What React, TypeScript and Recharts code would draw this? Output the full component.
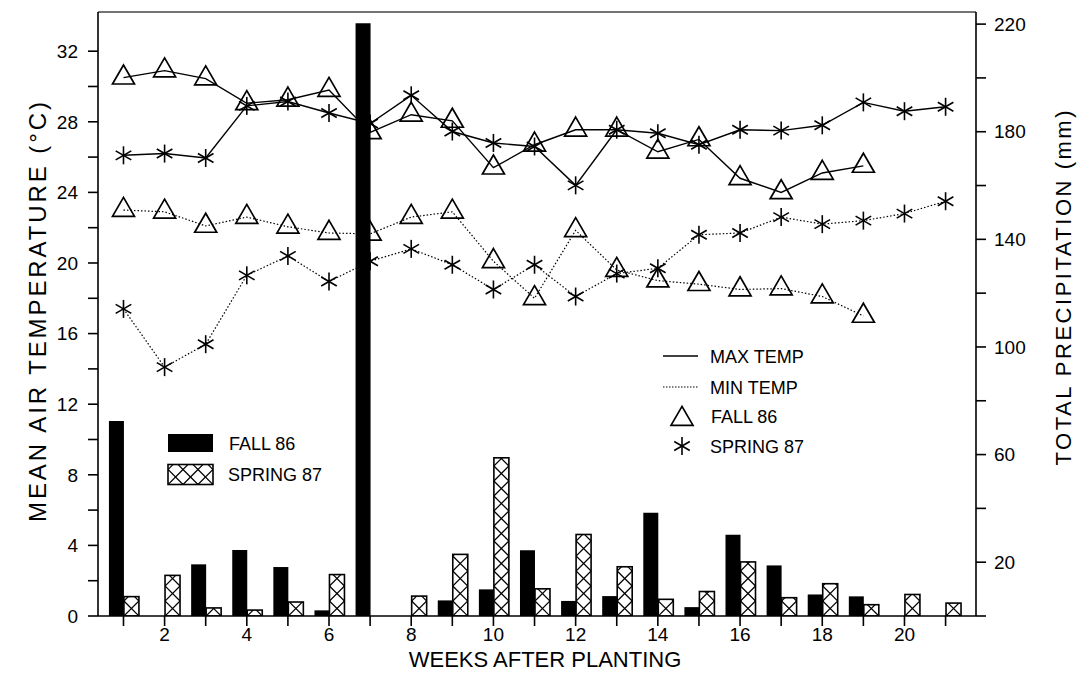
import React from 'react';
import { ComposedChart, Line, Bar, XAxis, YAxis, ReferenceLine } from 'recharts';

const FONT = "'Liberation Sans', Arial, Helvetica, sans-serif";

// weekly values
const weeks = [1, 2, 3, 4, 5, 6, 7, 8, 9, 10, 11, 12, 13, 14, 15, 16, 17, 18, 19, 20, 21];

// total precipitation (mm), right axis
const fallPrecip = [72.5, 0, 19.2, 24.5, 18.2, 2.1, 220.3, 0, 5.8, 9.9, 24.4, 5.6, 7.4, 38.4, 3.3, 30.2, 18.8, 8.0, 7.3, 0, 0];
const springPrecip = [7.2, 15.1, 3.0, 2.2, 5.2, 15.4, 0, 7.4, 22.9, 58.8, 10.1, 30.3, 18.3, 6.2, 9.1, 20.1, 6.8, 12.0, 4.2, 8.0, 4.8];

// mean air temperature (°C), left axis
const fallMax = [30.5, 30.9, 30.45, 29.05, 29.25, 29.8, 27.4, 28.4, 28.05, 25.4, 26.7, 27.55, 27.55, 26.3, 27.0, 24.8, 24.0, 25.1, 25.5, null, null];
const springMax = [26.1, 26.2, 25.95, 28.9, 29.15, 28.5, 27.9, 29.5, 27.45, 26.8, 26.6, 24.4, 27.55, 27.35, 26.7, 27.55, 27.5, 27.8, 29.1, 28.6, 28.85];
const fallMin = [23.0, 22.9, 22.1, 22.6, 22.05, 21.7, 21.65, 22.6, 22.9, 20.1, 18.0, 21.85, 19.6, 19.0, 18.8, 18.5, 18.55, 18.1, 17.0, null, null];
const springMin = [17.4, 14.1, 15.4, 19.3, 20.4, 18.95, 20.1, 20.8, 19.9, 18.5, 19.9, 18.1, 19.4, 19.7, 21.6, 21.7, 22.6, 22.2, 22.4, 22.8, 23.5];

const tempTicks = [0, 2, 4, 6, 8, 10, 12, 14, 16, 18, 20, 22, 24, 26, 28, 30, 32];
const precipTicks = [0, 20, 40, 60, 80, 100, 120, 140, 160, 180, 200, 220];
const tempLabels = [0, 4, 8, 12, 16, 20, 24, 28, 32];
const precipLabels = [20, 60, 100, 140, 180, 220];
const weekLabels = [2, 4, 6, 8, 10, 12, 14, 16, 18, 20];

const chartData = weeks.map((week, i) => ({
  week,
  fallPrecip: fallPrecip[i],
  springPrecip: springPrecip[i],
  fallMax: fallMax[i],
  springMax: springMax[i],
  fallMin: fallMin[i],
  springMin: springMin[i],
}));

const TEMP_MAX = 34.22;
const PRECIP_MAX = 224.5;

const Triangle = ({ cx, cy }: { cx: number; cy: number }) => {
  const s = 22;
  const h = 19;
  return (
    <path
      d={`M${cx},${cy - (2 * h) / 3} L${cx + s / 2},${cy + h / 3} L${cx - s / 2},${cy + h / 3} Z`}
      fill="none"
      stroke="#000"
      strokeWidth={1.7}
      strokeLinejoin="miter"
    />
  );
};

const Asterisk = ({ cx, cy }: { cx: number; cy: number }) => {
  const r = 9;
  const dx = r * Math.cos(Math.PI / 6);
  const dy = r * Math.sin(Math.PI / 6);
  return (
    <g stroke="#000" strokeWidth={1.6}>
      <line x1={cx} y1={cy - r} x2={cx} y2={cy + r} />
      <line x1={cx - dx} y1={cy - dy} x2={cx + dx} y2={cy + dy} />
      <line x1={cx - dx} y1={cy + dy} x2={cx + dx} y2={cy - dy} />
    </g>
  );
};

const triangleDot = (p: any) => {
  if (p.value == null || p.cy == null) return <g key={p.key ?? p.index} />;
  return <Triangle key={p.key ?? p.index} cx={p.cx} cy={p.cy} />;
};

const starDot = (p: any) => {
  if (p.value == null || p.cy == null) return <g key={p.key ?? p.index} />;
  return <Asterisk key={p.key ?? p.index} cx={p.cx} cy={p.cy} />;
};

// cross hatch drawn cell by cell from the bottom of the rectangle
const Hatched = ({ x, y, width, height, id }: any) => {
  if (!height || height <= 0) return <g />;
  const cw = 15;
  const ch = 15;
  const cols = Math.max(1, Math.round(width / cw));
  const w = width / cols;
  const rows = Math.ceil(height / ch);
  const bottom = y + height;
  const lines = [];
  for (let c = 0; c < cols; c++) {
    for (let r = 0; r < rows; r++) {
      const x0 = x + c * w;
      const x1 = x0 + w;
      const y0 = bottom - r * ch;
      const y1 = y0 - ch;
      lines.push(<line key={`${c}-${r}-a`} x1={x0} y1={y0} x2={x1} y2={y1} />);
      lines.push(<line key={`${c}-${r}-b`} x1={x1} y1={y0} x2={x0} y2={y1} />);
    }
  }
  return (
    <g>
      <defs>
        <clipPath id={id}>
          <rect x={x} y={y} width={width} height={height} />
        </clipPath>
      </defs>
      <rect x={x} y={y} width={width} height={height} fill="#fff" />
      <g clipPath={`url(#${id})`} stroke="#000" strokeWidth={1.2}>
        {lines}
      </g>
      <rect x={x} y={y} width={width} height={height} fill="none" stroke="#000" strokeWidth={1.6} />
    </g>
  );
};

const springBarShape = (props: any) => (
  <Hatched key={`sb-${props.index}`} {...props} id={`hatch-${props.index}`} />
);

const XTitle = () => (
  <text x={545} y={667} textAnchor="middle" fontSize={22} fontFamily={FONT} fill="#000">
    WEEKS AFTER PLANTING
  </text>
);

const LeftTitle = () => (
  <text
    x={46}
    y={312}
    transform="rotate(-90, 46, 312)"
    textAnchor="middle"
    fontSize={24}
    fontFamily={FONT}
    fill="#000"
    textLength={420}
    lengthAdjust="spacing"
  >
    MEAN AIR TEMPERATURE  (°C)
  </text>
);

const RightTitle = () => (
  <text
    x={1071}
    y={288}
    transform="rotate(-90, 1071, 288)"
    textAnchor="middle"
    fontSize={22}
    fontFamily={FONT}
    fill="#000"
    textLength={355}
    lengthAdjust="spacing"
  >
    TOTAL PRECIPITATION  (mm)
  </text>
);

const tickStyle = { fill: '#000', fontSize: 19, fontFamily: FONT };

const Legends = () => (
  <svg
    width={1086}
    height={686}
    style={{ position: 'absolute', left: 0, top: 0, pointerEvents: 'none' }}
  >
    <g fontFamily={FONT} fontSize={18} fill="#000">
      <rect x={168} y={434} width={45} height={18} fill="#000" />
      <text x={229} y={450}>FALL 86</text>
      <Hatched x={168} y={464.5} width={45} height={20} id="hatch-legend" />
      <text x={228} y={481}>SPRING 87</text>

      <line x1={663} y1={356} x2={698} y2={356} stroke="#000" strokeWidth={1.4} />
      <text x={710} y={363}>MAX TEMP</text>
      <line x1={663} y1={387} x2={698} y2={387} stroke="#000" strokeWidth={1.2} strokeDasharray="1.5 1.5" />
      <text x={710} y={394}>MIN TEMP</text>
      <Triangle cx={682} cy={419} />
      <text x={711} y={423}>FALL 86</text>
      <Asterisk cx={682} cy={446} />
      <text x={710} y={453}>SPRING 87</text>
    </g>
  </svg>
);

export default function App() {
  return (
    <div style={{ position: 'fixed', left: 0, top: 0, width: 1086, height: 686, background: '#fff' }}>
      <ComposedChart
        width={1086}
        height={686}
        data={chartData}
        margin={{ top: 12, right: 0, bottom: 0, left: 0 }}
        barGap={0}
      >
        <XAxis
          dataKey="week"
          type="number"
          domain={[0.38, 21.74]}
          allowDataOverflow
          ticks={weeks}
          interval={0}
          tickFormatter={(v: number) => (weekLabels.includes(v) ? String(v) : '')}
          height={70}
          stroke="#000"
          strokeWidth={1.6}
          tickSize={10}
          tickMargin={2}
          tick={tickStyle}
          label={XTitle}
        />
        <YAxis
          yAxisId="left"
          domain={[0, TEMP_MAX]}
          allowDataOverflow
          ticks={tempTicks}
          interval={0}
          tickFormatter={(v: number) => (tempLabels.includes(v) ? String(v) : '')}
          width={98}
          stroke="#000"
          strokeWidth={1.6}
          tickSize={10}
          tickMargin={10}
          tick={tickStyle}
          label={LeftTitle}
        />
        <YAxis
          yAxisId="right"
          orientation="right"
          domain={[0, PRECIP_MAX]}
          allowDataOverflow
          ticks={precipTicks}
          interval={0}
          tickFormatter={(v: number) => (precipLabels.includes(v) ? String(v) : '')}
          width={110}
          stroke="#000"
          strokeWidth={1.6}
          tickSize={10}
          tickMargin={8}
          tick={tickStyle}
          label={RightTitle}
        />
        <ReferenceLine yAxisId="left" y={TEMP_MAX} stroke="#444" strokeWidth={1.6} />

        <Line
          yAxisId="left"
          dataKey="fallMax"
          stroke="#000"
          strokeWidth={1.4}
          dot={triangleDot}
          activeDot={false}
          isAnimationActive={false}
        />
        <Line
          yAxisId="left"
          dataKey="springMax"
          stroke="#000"
          strokeWidth={1.4}
          dot={starDot}
          activeDot={false}
          isAnimationActive={false}
        />
        <Line
          yAxisId="left"
          dataKey="fallMin"
          stroke="#000"
          strokeWidth={1.2}
          strokeDasharray="1.5 2"
          dot={triangleDot}
          activeDot={false}
          isAnimationActive={false}
        />
        <Line
          yAxisId="left"
          dataKey="springMin"
          stroke="#000"
          strokeWidth={1.2}
          strokeDasharray="1.5 2"
          dot={starDot}
          activeDot={false}
          isAnimationActive={false}
        />

        <Bar
          yAxisId="right"
          dataKey="fallPrecip"
          fill="#000"
          barSize={15}
          zIndex={450}
          isAnimationActive={false}
        />
        <Bar
          yAxisId="right"
          dataKey="springPrecip"
          fill="#fff"
          barSize={15}
          zIndex={450}
          shape={springBarShape}
          isAnimationActive={false}
        />
      </ComposedChart>
      <Legends />
    </div>
  );
}
